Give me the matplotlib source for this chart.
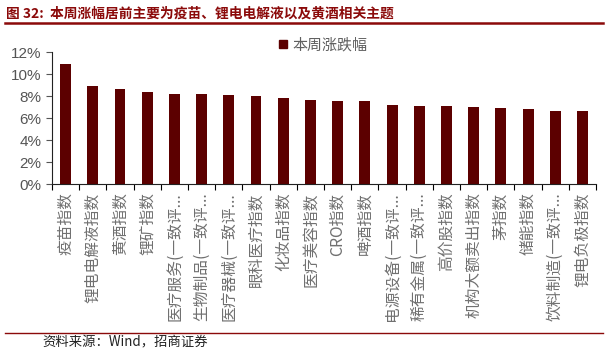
import numpy as np
import matplotlib
matplotlib.use('Agg')
import matplotlib.pyplot as plt
from matplotlib.lines import Line2D
from matplotlib.ticker import FuncFormatter, FixedLocator

plt.rcParams['font.family'] = ['Liberation Sans', 'Noto Sans CJK SC', 'DejaVu Sans']

# ── データ ────────────────────────────────────────────────
LABELS = ['疫苗指数', '锂电电解液指数', '黄酒指数', '锂矿指数',
          '医疗服务(一致评...', '生物制品(一致评...', '医疗器械(一致评...',
          '眼科医疗指数', '化妆品指数', '医疗美容指数', 'CRO指数', '啤酒指数',
          '电源设备(一致评...', '稀有金属(一致评...', '高价股指数',
          '机构大额卖出指数', '茅指数', '储能指数', '饮料制造(一致评...',
          '锂电负极指数']
CHANGE = [10.9, 8.9, 8.65, 8.38, 8.2, 8.2, 8.1, 8.0, 7.82, 7.65,
          7.57, 7.57, 7.2, 7.1, 7.1, 7.0, 6.92, 6.83, 6.65, 6.65]
SERIES = '本周涨跌幅'
TITLE = '图 32:  本周涨幅居前主要为疫苗、锂电电解液以及黄酒相关主题'
SOURCE = '资料来源：Wind，招商证券'

BAR_C = '#5C0000'
RED = '#8B0A0A'
GREY = '#555555'
CJK = ['Noto Sans CJK SC', 'DejaVu Sans']

fig = plt.figure(figsize=(6.12, 3.56), dpi=100)
ax = fig.add_axes([0.085, 0.483, 0.889, 0.370])

x = np.arange(len(LABELS))
ax.bar(x, CHANGE, width=0.4, color=BAR_C, zorder=2)
ax.set_xlim(-0.5, len(LABELS) - 0.5)
ax.set_ylim(0, 12)
ax.set_yticks(np.arange(0, 13, 2))
ax.yaxis.set_major_formatter(FuncFormatter(lambda v, p: f'{v:.0f}%'))
ax.tick_params(axis='y', labelsize=11, colors=GREY, length=4, width=0.8, direction='out')

ax.set_xticks(x)
ax.set_xticklabels(LABELS, rotation=90, fontsize=11.3, color='#707070', family=CJK,
                   fontweight='light')
ax.tick_params(axis='x', which='major', length=0, pad=6)
ax.xaxis.set_minor_locator(FixedLocator(np.arange(-0.5, len(LABELS), 1)))
ax.tick_params(axis='x', which='minor', length=4, width=0.8, color='black')

for s in ['top', 'right']:
    ax.spines[s].set_visible(False)
for s in ['left', 'bottom']:
    ax.spines[s].set_color('#222222')
    ax.spines[s].set_linewidth(0.8)

# 凡例
h = Line2D([], [], marker='s', ls='none', color=BAR_C, markersize=6)
fig.legend([h], [SERIES], loc='center left', bbox_to_anchor=(0.443, 0.873),
           frameon=False, handlelength=0.6, handletextpad=0.35, borderpad=0,
           labelcolor='#606060', prop={'family': CJK, 'size': 10.8, 'weight': 'light'})

# タイトル・罫線・出典
fig.text(0.009, 0.962, TITLE, fontsize=9.9, fontweight='bold', color=RED,
         va='center', ha='left', family=CJK)
fig.add_artist(Line2D([0.008, 0.985], [0.934, 0.934], color=RED, lw=1.8))
fig.add_artist(Line2D([0.008, 0.985], [0.065, 0.065], color=RED, lw=1.0))
fig.text(0.07, 0.038, SOURCE, fontsize=9.6, color='#222222', va='center', ha='left',
         family=CJK)

fig.savefig('out.png', dpi=100)
